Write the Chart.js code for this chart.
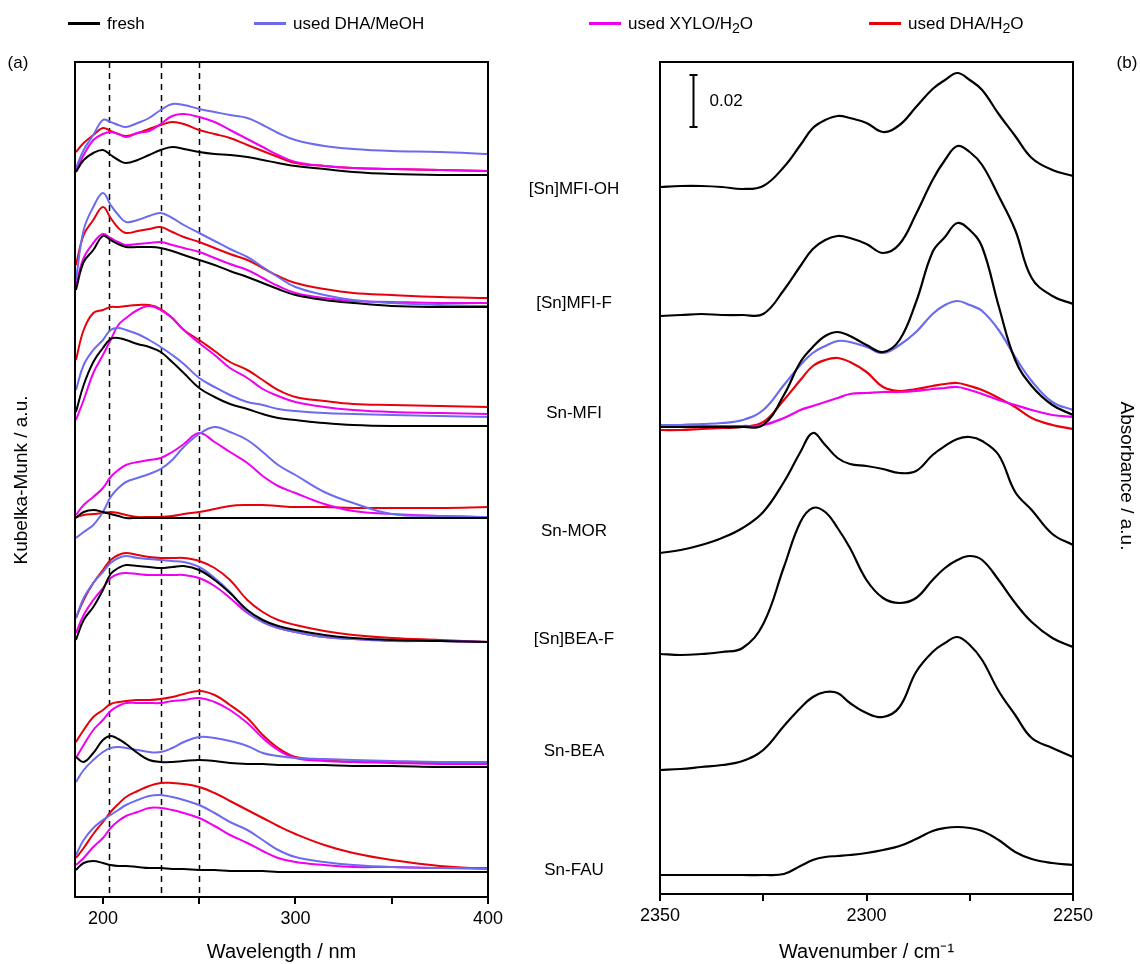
<!DOCTYPE html>
<html>
<head>
<meta charset="utf-8">
<script src="https://cdn.jsdelivr.net/npm/chart.js@4.4.1/dist/chart.umd.min.js"></script>
<style>
  body { margin: 0; background: #fff; font-family: "Liberation Sans", Arial, sans-serif; color: #000; }
  #wrap { position: relative; width: 1140px; height: 964px; overflow: hidden; }
  canvas { position: absolute; top: 0; }
  .txt { position: absolute; font-size: 17px; line-height: 1; white-space: nowrap; }
  .mid { transform: translate(-50%, -50%); }
  .leg-line { position: absolute; height: 3px; width: 32px; }
</style>
</head>
<body>
<div id="wrap">
  <canvas id="uv" width="520" height="964" style="left:0"></canvas>
  <canvas id="ir" width="570" height="964" style="left:570px"></canvas>
</div>
<script>
// sample names, top to bottom
const samples = ['[Sn]MFI-OH', '[Sn]MFI-F', 'Sn-MFI', 'Sn-MOR', '[Sn]BEA-F', 'Sn-BEA', 'Sn-FAU'];
const seriesNames = ['fresh', 'used DHA/MeOH', 'used XYLO/H<sub>2</sub>O', 'used DHA/H<sub>2</sub>O'];
const seriesColors = ['#000000', '#6b6bf0', '#f000f0', '#e8000b'];

// (a) UV-vis, offset spectra (a.u.)
const wavelengths = [186, 190, 195, 200, 204, 208, 212, 218, 224, 230, 236, 242, 250, 258, 266, 275, 283, 291, 300, 315, 330, 350, 375, 400];
const wavelengthTicks = [200, 300, 400];
const dashedLines = [203, 230, 250];

const uvFresh = [
  [72.5, 73.7, 74.4, 74.7, 74.2, 73.7, 73.4, 73.7, 74.2, 74.7, 75.0, 74.8, 74.5, 74.3, 74.2, 74.0, 73.7, 73.4, 73.1, 72.8, 72.5, 72.3, 72.2, 72.2],
  [60.7, 63.5, 64.7, 66.1, 65.7, 65.3, 65.0, 65.0, 65.0, 64.9, 64.6, 64.2, 63.7, 63.2, 62.6, 62.0, 61.4, 60.8, 60.2, 59.7, 59.4, 59.1, 59.0, 59.0],
  [48.5, 51.2, 53.5, 54.9, 55.8, 55.9, 55.7, 55.3, 55.0, 54.5, 53.5, 52.4, 50.9, 50.0, 49.3, 48.8, 48.3, 47.9, 47.7, 47.4, 47.2, 47.1, 47.1, 47.1],
  [37.9, 38.5, 38.7, 38.5, 38.3, 38.1, 37.9, 37.9, 37.9, 37.9, 37.9, 37.9, 37.9, 37.9, 37.9, 37.9, 37.9, 37.9, 37.9, 37.9, 37.9, 37.9, 37.9, 37.9],
  [25.7, 27.7, 29.0, 30.7, 32.3, 32.9, 33.2, 33.1, 33.0, 32.9, 33.0, 33.1, 32.7, 31.7, 30.4, 28.7, 27.7, 27.1, 26.7, 26.2, 25.9, 25.7, 25.6, 25.5],
  [14.0, 13.5, 14.4, 15.7, 16.1, 15.8, 15.3, 14.4, 13.7, 13.5, 13.5, 13.6, 13.7, 13.6, 13.4, 13.3, 13.3, 13.2, 13.2, 13.2, 13.1, 13.1, 13.0, 13.0],
  [2.7, 3.4, 3.6, 3.4, 3.2, 3.1, 3.1, 3.0, 2.9, 2.9, 2.8, 2.8, 2.7, 2.7, 2.6, 2.6, 2.6, 2.5, 2.5, 2.5, 2.5, 2.5, 2.5, 2.5]
];
const uvDhaMeoh = [
  [72.9, 74.7, 76.2, 77.7, 77.5, 77.2, 77.0, 77.4, 77.9, 78.7, 79.3, 79.2, 78.8, 78.5, 78.2, 77.9, 77.2, 76.4, 75.7, 75.1, 74.8, 74.6, 74.5, 74.3],
  [61.7, 66.7, 69.0, 70.4, 69.2, 68.2, 67.5, 67.7, 68.1, 68.4, 67.9, 67.2, 66.4, 65.6, 64.8, 64.0, 63.0, 62.0, 61.0, 60.2, 59.7, 59.4, 59.2, 59.1],
  [50.7, 53.2, 54.7, 55.7, 56.7, 56.9, 56.7, 56.3, 55.7, 55.0, 54.2, 53.3, 51.9, 51.0, 50.2, 49.5, 49.2, 48.8, 48.6, 48.4, 48.3, 48.2, 48.1, 48.0],
  [35.9, 36.5, 37.2, 38.5, 40.0, 40.9, 41.5, 41.9, 42.3, 42.8, 43.7, 45.0, 46.3, 47.0, 46.5, 45.7, 44.5, 43.2, 42.2, 40.5, 39.4, 38.3, 38.1, 38.0],
  [27.9, 29.9, 31.4, 32.5, 33.4, 33.9, 34.1, 33.9, 33.8, 33.7, 33.6, 33.5, 33.0, 31.9, 30.5, 28.5, 27.5, 26.9, 26.5, 26.0, 25.8, 25.6, 25.6, 25.5],
  [11.5, 12.7, 13.7, 14.5, 14.9, 15.0, 14.9, 14.7, 14.5, 14.5, 14.9, 15.5, 16.0, 15.9, 15.6, 15.1, 14.4, 14.1, 13.9, 13.8, 13.7, 13.6, 13.5, 13.5],
  [4.2, 5.7, 6.9, 7.7, 8.2, 8.7, 9.2, 9.7, 10.1, 10.2, 10.0, 9.7, 9.2, 8.4, 7.5, 6.7, 5.7, 4.7, 4.0, 3.5, 3.2, 3.0, 2.9, 2.8]
];
const uvXyloH2o = [
  [72.7, 74.2, 75.7, 76.3, 76.5, 76.3, 76.0, 76.4, 76.6, 77.3, 78.1, 78.3, 78.0, 77.5, 76.7, 75.8, 75.0, 74.2, 73.5, 73.1, 72.9, 72.8, 72.7, 72.6],
  [61.2, 63.9, 65.4, 66.3, 65.9, 65.5, 65.2, 65.3, 65.4, 65.5, 65.2, 64.9, 64.5, 63.9, 63.3, 62.7, 61.9, 61.1, 60.4, 59.9, 59.6, 59.5, 59.4, 59.4],
  [47.7, 49.7, 52.4, 54.2, 55.7, 57.2, 57.9, 58.7, 59.1, 58.7, 57.9, 56.7, 55.4, 54.2, 52.9, 51.9, 50.8, 50.1, 49.5, 49.0, 48.7, 48.5, 48.4, 48.3],
  [38.2, 39.2, 40.0, 40.9, 42.0, 42.7, 43.2, 43.5, 43.7, 43.9, 44.5, 45.3, 46.4, 45.5, 44.5, 43.4, 42.1, 41.1, 40.4, 39.3, 38.6, 38.3, 38.1, 38.0],
  [26.4, 28.2, 29.7, 30.9, 31.9, 32.3, 32.4, 32.3, 32.2, 32.2, 32.2, 32.2, 31.9, 31.1, 29.9, 28.4, 27.5, 26.9, 26.5, 26.0, 25.8, 25.7, 25.6, 25.5],
  [13.9, 15.2, 16.7, 17.7, 18.6, 19.1, 19.4, 19.4, 19.4, 19.4, 19.6, 19.7, 19.9, 19.5, 18.7, 17.4, 15.9, 14.7, 13.9, 13.6, 13.5, 13.4, 13.3, 13.3],
  [3.2, 3.9, 5.0, 5.9, 6.9, 7.6, 8.1, 8.5, 8.9, 8.9, 8.7, 8.4, 7.9, 7.1, 6.2, 5.4, 4.6, 3.9, 3.5, 3.2, 3.0, 3.0, 2.9, 2.9]
];
const uvDhaH2o = [
  [74.5, 75.4, 76.2, 76.9, 76.6, 76.3, 76.1, 76.4, 76.8, 77.2, 77.5, 77.3, 76.7, 76.3, 75.9, 75.2, 74.6, 74.0, 73.4, 73.1, 72.9, 72.8, 72.7, 72.6],
  [63.2, 66.2, 67.7, 69.0, 67.9, 66.9, 66.4, 66.6, 66.8, 67.0, 66.5, 66.0, 65.5, 64.9, 64.3, 63.7, 62.9, 62.1, 61.4, 60.8, 60.4, 60.2, 60.0, 59.9],
  [53.7, 56.7, 58.4, 58.7, 59.0, 59.0, 59.1, 59.2, 59.2, 58.8, 57.9, 56.7, 55.7, 54.6, 53.5, 52.7, 51.7, 50.7, 50.0, 49.6, 49.3, 49.2, 49.1, 49.0],
  [38.0, 38.2, 38.3, 38.4, 38.5, 38.4, 38.2, 38.0, 38.0, 38.0, 38.1, 38.3, 38.5, 38.8, 39.1, 39.2, 39.2, 39.1, 39.0, 39.0, 38.9, 38.9, 38.9, 39.0],
  [27.9, 29.7, 31.4, 32.7, 33.7, 34.2, 34.4, 34.2, 34.0, 33.9, 33.9, 33.9, 33.6, 32.9, 31.7, 29.7, 28.5, 27.7, 27.2, 26.6, 26.2, 25.9, 25.7, 25.5],
  [15.5, 16.7, 18.0, 18.7, 19.3, 19.5, 19.6, 19.7, 19.7, 19.8, 20.0, 20.3, 20.6, 20.2, 19.2, 17.9, 16.2, 14.9, 14.0, 13.7, 13.5, 13.5, 13.4, 13.4],
  [3.9, 4.9, 6.3, 7.5, 8.5, 9.3, 10.0, 10.6, 11.1, 11.4, 11.4, 11.3, 11.0, 10.4, 9.6, 8.7, 7.9, 7.1, 6.3, 5.2, 4.4, 3.7, 3.1, 2.8]
];

// (b) IR, offset absorbance (a.u.)
const wavenumbers = [2350, 2345, 2340, 2335, 2330, 2325, 2320, 2316, 2313, 2310, 2307, 2304, 2300, 2296, 2292, 2288, 2284, 2281, 2278, 2275, 2272, 2268, 2264, 2260, 2255, 2250];
const wavenumberTicks = [2350, 2300, 2250];
const irFresh = [
  [71.0, 71.1, 71.1, 71.0, 70.8, 71.1, 73.0, 75.2, 76.9, 77.7, 78.1, 77.9, 77.4, 76.5, 77.2, 79.0, 80.8, 81.7, 82.4, 81.7, 80.7, 78.3, 76.1, 73.9, 72.7, 72.1],
  [58.1, 58.2, 58.3, 58.2, 58.2, 58.3, 60.7, 63.1, 64.8, 65.7, 66.1, 65.9, 65.3, 64.4, 65.3, 68.3, 71.7, 73.7, 75.1, 74.5, 73.2, 70.1, 66.7, 61.9, 60.1, 59.3],
  [47.0, 47.0, 47.0, 47.0, 47.0, 47.2, 50.2, 53.5, 55.0, 56.1, 56.5, 56.1, 55.2, 54.5, 55.7, 59.5, 64.5, 66.0, 67.4, 66.7, 65.0, 59.1, 53.7, 51.1, 49.2, 48.2],
  [34.4, 34.7, 35.2, 35.9, 36.9, 38.5, 41.5, 44.5, 46.4, 45.2, 43.9, 43.3, 43.1, 42.8, 42.4, 42.6, 44.2, 45.1, 45.8, 46.0, 45.6, 44.2, 40.5, 38.7, 36.3, 35.2],
  [24.3, 24.2, 24.3, 24.5, 24.9, 27.3, 33.0, 37.5, 38.9, 38.5, 36.9, 34.9, 31.7, 29.9, 29.4, 29.9, 31.7, 32.9, 33.7, 34.1, 33.7, 31.7, 29.4, 27.5, 25.9, 25.0],
  [12.7, 12.8, 13.0, 13.2, 13.6, 14.7, 17.1, 18.9, 20.0, 20.5, 20.4, 19.4, 18.4, 18.0, 19.0, 22.5, 24.5, 25.4, 26.0, 25.2, 23.7, 20.6, 18.2, 15.9, 14.9, 14.0],
  [2.2, 2.2, 2.2, 2.2, 2.2, 2.2, 2.3, 3.1, 3.7, 4.0, 4.1, 4.2, 4.4, 4.7, 5.1, 5.8, 6.6, 6.9, 7.0, 6.9, 6.6, 5.7, 4.5, 3.8, 3.4, 3.2]
];
// used Sn-MFI samples (only measured for Sn-MFI)
const irSnMfiDhaMeoh = [47.2, 47.2, 47.3, 47.4, 47.7, 48.7, 51.2, 53.2, 54.4, 55.1, 55.6, 55.5, 55.0, 54.4, 55.2, 56.5, 58.3, 59.2, 59.6, 59.2, 58.6, 56.7, 54.0, 51.6, 49.5, 48.7];
const irSnMfiXyloH2o = [47.1, 47.1, 47.1, 47.1, 47.1, 47.2, 47.9, 48.7, 49.1, 49.5, 49.9, 50.3, 50.4, 50.5, 50.5, 50.6, 50.8, 50.9, 51.0, 50.7, 50.3, 49.7, 49.2, 48.7, 48.2, 48.0];
const irSnMfiDhaH2o = [46.7, 46.7, 46.8, 46.9, 47.0, 47.5, 49.7, 51.7, 53.1, 53.7, 53.9, 53.5, 52.5, 51.0, 50.6, 50.8, 51.1, 51.3, 51.4, 51.1, 50.7, 49.9, 49.0, 47.9, 47.2, 46.8];

Chart.defaults.font.family = '"Liberation Sans", Arial, sans-serif';
Chart.defaults.color = '#000';

function serie(xs, ys, color, width) {
  return {
    data: xs.map((x, i) => ({ x: x, y: ys[i] })),
    borderColor: color,
    borderWidth: width,
    borderJoinStyle: 'round',
    pointRadius: 0,
    tension: 0.4,
    fill: false
  };
}

// box around the plot area
const framePlugin = {
  id: 'frame',
  afterDatasetsDraw(chart) {
    const { ctx, chartArea: a } = chart;
    ctx.save();
    ctx.strokeStyle = '#000';
    ctx.lineWidth = 2;
    ctx.strokeRect(a.left, a.top, a.right - a.left, a.bottom - a.top);
    ctx.restore();
  }
};

// dashed reference lines in (a)
const dashPlugin = {
  id: 'dashes',
  beforeDatasetsDraw(chart) {
    const { ctx, chartArea: a, scales } = chart;
    ctx.save();
    ctx.strokeStyle = '#000';
    ctx.lineWidth = 1.5;
    ctx.setLineDash([6, 5]);
    dashedLines.forEach(v => {
      const x = Math.round(scales.x.getPixelForValue(v)) + 0.5;
      ctx.beginPath();
      ctx.moveTo(x, a.top);
      ctx.lineTo(x, a.bottom);
      ctx.stroke();
    });
    ctx.restore();
  }
};

// 0.02 scale bar in (b)
const scaleBar = { x: 2342, top: 82.2, length: 5.2, label: '0.02' };
const scaleBarPlugin = {
  id: 'scaleBar',
  afterDatasetsDraw(chart) {
    const { ctx, scales } = chart;
    const x = Math.round(scales.x.getPixelForValue(scaleBar.x)) + 0.5;
    const y1 = scales.y.getPixelForValue(scaleBar.top);
    const y2 = scales.y.getPixelForValue(scaleBar.top - scaleBar.length);
    ctx.save();
    ctx.strokeStyle = '#000';
    ctx.lineWidth = 2;
    ctx.beginPath();
    ctx.moveTo(x, y1); ctx.lineTo(x, y2);
    ctx.moveTo(x - 4, y1); ctx.lineTo(x + 4, y1);
    ctx.moveTo(x - 4, y2); ctx.lineTo(x + 4, y2);
    ctx.stroke();
    ctx.fillStyle = '#000';
    ctx.font = '17px "Liberation Sans", Arial, sans-serif';
    ctx.textBaseline = 'middle';
    ctx.fillText(scaleBar.label, x + 16, (y1 + y2) / 2);
    ctx.restore();
  }
};

function xAxis(opts) {
  return Object.assign({
    type: 'linear',
    border: { display: false },
    grid: { drawOnChartArea: false, drawTicks: true, tickLength: 7, color: '#000', lineWidth: 2 },
    ticks: {
      stepSize: 50,
      includeBounds: false,
      maxRotation: 0,
      autoSkip: false,
      padding: 4,
      font: { size: 18 },
      color: '#000'
    },
    title: { display: true, font: { size: 20 }, color: '#000', padding: { top: 2, bottom: 0 } }
  }, opts);
}

// (a)
const uvData = [];
samples.forEach((s, i) => {
  [uvFresh, uvDhaMeoh, uvXyloH2o, uvDhaH2o].forEach((set, k) => {
    uvData.push(serie(wavelengths, set[i], seriesColors[k], 2));
  });
});

const uvX = xAxis({ min: 185.5, max: 400, afterFit: s => { s.height = 67; } });
uvX.ticks.callback = v => wavelengthTicks.includes(v) ? String(v) : '';
uvX.title.text = 'Wavelength / nm';

new Chart(document.getElementById('uv'), {
  type: 'line',
  data: { datasets: uvData },
  options: {
    responsive: false,
    animation: false,
    layout: { padding: { left: 75, top: 62, right: 32, bottom: 0 } },
    scales: {
      x: uvX,
      y: { display: false, min: 0, max: 83.5 }
    },
    plugins: { legend: { display: false }, tooltip: { enabled: false } }
  },
  plugins: [dashPlugin, framePlugin]
});

// (b)
const irData = [];
samples.forEach((s, i) => {
  irData.push(serie(wavenumbers, irFresh[i], seriesColors[0], 2.2));
  if (s === 'Sn-MFI') {
    irData.push(serie(wavenumbers, irSnMfiDhaMeoh, seriesColors[1], 2.2));
    irData.push(serie(wavenumbers, irSnMfiXyloH2o, seriesColors[2], 2.2));
    irData.push(serie(wavenumbers, irSnMfiDhaH2o, seriesColors[3], 2.2));
  }
});

const irX = xAxis({ min: 2250, max: 2350, reverse: true, afterFit: s => { s.height = 70; } });
irX.ticks.stepSize = 25;
irX.ticks.callback = v => wavenumberTicks.includes(v) ? String(v) : '';
irX.title.text = 'Wavenumber / cm\u207B\u00B9';

new Chart(document.getElementById('ir'), {
  type: 'line',
  data: { datasets: irData },
  options: {
    responsive: false,
    animation: false,
    layout: { padding: { left: 90, top: 62, right: 67, bottom: 0 } },
    scales: {
      x: irX,
      y: { display: false, min: 0.3, max: 83.5 }
    },
    plugins: { legend: { display: false }, tooltip: { enabled: false } }
  },
  plugins: [framePlugin, scaleBarPlugin]
});

// texts and legend
const wrap = document.getElementById('wrap');
function addText(html, x, y, cls, extra) {
  const d = document.createElement('div');
  d.className = 'txt ' + (cls || '');
  d.innerHTML = html;
  d.style.left = x + 'px';
  d.style.top = y + 'px';
  if (extra) Object.assign(d.style, extra);
  wrap.appendChild(d);
  return d;
}

const legendX = [68, 254, 589, 869];
seriesNames.forEach((name, k) => {
  const l = document.createElement('div');
  l.className = 'leg-line';
  l.style.left = legendX[k] + 'px';
  l.style.top = '22px';
  l.style.background = seriesColors[k];
  wrap.appendChild(l);
  addText(name, legendX[k] + 39, 15);
});

const labelY = [188, 302, 412, 530, 638, 750, 869];
samples.forEach((s, i) => addText(s, 574, labelY[i], 'mid'));

addText('(a)', 18, 62, 'mid');
addText('(b)', 1127, 62, 'mid');
addText('Kubelka-Munk / a.u.', 20, 480, '', { fontSize: '19px', transform: 'translate(-50%, -50%) rotate(-90deg)' });
addText('Absorbance / a.u.', 1127, 476, '', { fontSize: '19px', transform: 'translate(-50%, -50%) rotate(90deg)' });
</script>
</body>
</html>
